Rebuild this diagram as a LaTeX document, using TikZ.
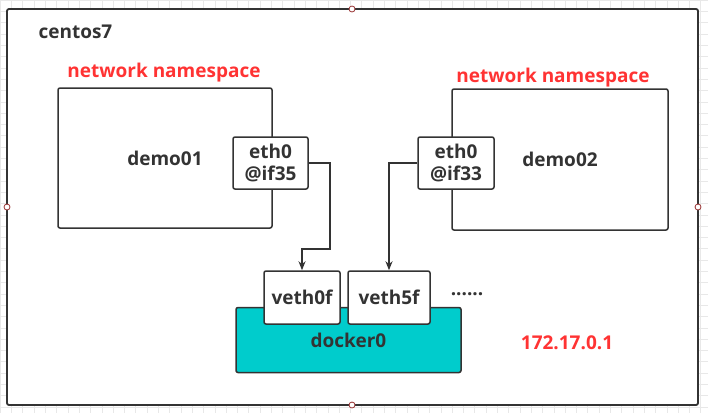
\documentclass[tikz,border=0pt]{standalone}
\usepackage{fontspec}
\setmainfont{Open Sans}
\usetikzlibrary{arrows.meta}
\definecolor{ink}{HTML}{333333}
\definecolor{hot}{HTML}{FF3333}
\definecolor{bridge}{HTML}{00CCCC}
\definecolor{hdl}{HTML}{993333}

\begin{document}
\begin{tikzpicture}[x=1pt,y=-1pt,
    every node/.style={font=\fontsize{19}{22}\selectfont\bfseries,text=ink},
    box/.style={draw=ink,line width=1.5pt,rounded corners=2pt,inner sep=0pt},
    port/.style={box,fill=white,align=center},
    hottxt/.style={text=hot},
    link/.style={draw=ink,line width=1.5pt,-{Stealth[length=9pt,width=7pt]}}]
    \useasboundingbox (0,0) rectangle (708,413);
    \draw[black!9,step=11.3pt] (0,0) grid (708,413);
    \filldraw[fill=white,draw=ink,line width=1.8pt,rounded corners=2pt] (7,9) rectangle (698,405);
    \node[anchor=west] (host) at (35,32) {centos7};
    \node[hottxt] (nslabA) at (164,73) {network namespace};
    \node[hottxt] (nslabB) at (553,78) {network namespace};
    \node[box,minimum width=214pt,minimum height=140pt] (nsA) at (165,158) {demo01};
    \node[box,minimum width=216pt,minimum height=141pt] (nsB) at (560,159.5) {demo02};
    \node[port,minimum width=75pt,minimum height=52pt] (ethA) at (270.5,163) {eth0\\@if35};
    \node[port,minimum width=76pt,minimum height=52pt] (ethB) at (456,163) {eth0\\@if33};
    \node[box,fill=bridge,minimum width=225pt,minimum height=65pt] (dock) at (348.5,340) {docker0};
    \node[port,minimum width=76pt,minimum height=53pt] (vethA) at (302,297.5) {veth0f};
    \node[port,minimum width=82pt,minimum height=53pt] (vethB) at (389,297.5) {veth5f};
    \node (more) at (467,294) {......};
    \node[hottxt] (ip) at (567,343) {172.17.0.1};
    \coordinate (bend) at (330,249);
    \draw[link] (ethA.east) -| (bend) -| (vethA.north);
    \draw[link] (ethB.west) -| (vethB.north);
    \foreach \p in {(352,9),(7,207),(698,207),(352,405)}
        \filldraw[fill=white,draw=hdl,line width=0.8pt] \p circle (3pt);
\end{tikzpicture}
\end{document}
